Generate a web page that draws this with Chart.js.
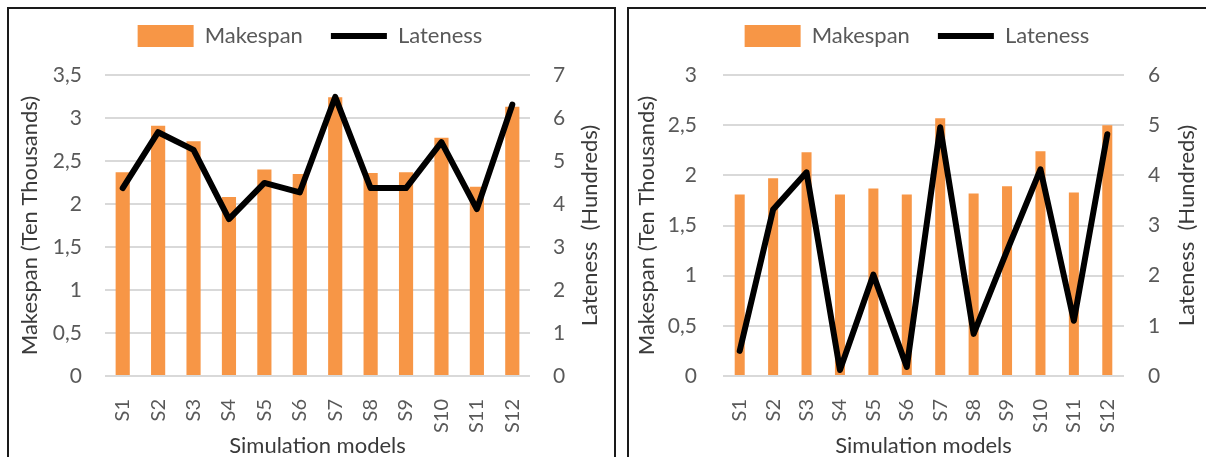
<!DOCTYPE html>
<html>
<head>
<meta charset="utf-8">
<script src="https://cdn.jsdelivr.net/npm/chart.js@4"></script>
<style>
    body { margin: 0; width: 1206px; height: 457px; overflow: hidden; background: #fff; position: relative; }
    .panel { position: absolute; top: 7px; height: 480px; border: 2px solid #1a1a1a; box-sizing: border-box; }
    #p1 { left: 7px; width: 609px; }
    #p2 { left: 627px; width: 600px; }
    canvas { position: absolute; top: -3px; }
    #c1 { left: 10px; }
    #c2 { left: 630px; }
</style>
</head>
<body>
<div class="panel" id="p1"></div>
<div class="panel" id="p2"></div>
<canvas id="c1" width="602" height="462"></canvas>
<canvas id="c2" width="576" height="462"></canvas>

<script>
// models on the x axis
const models = ['S1', 'S2', 'S3', 'S4', 'S5', 'S6', 'S7', 'S8', 'S9', 'S10', 'S11', 'S12'];

// left chart (makespan in ten thousands, lateness in hundreds)
const makespanLeft = [2.37, 2.91, 2.73, 2.08, 2.40, 2.35, 3.24, 2.36, 2.37, 2.77, 2.20, 3.13];
const latenessLeft = [4.37, 5.67, 5.26, 3.65, 4.49, 4.27, 6.49, 4.37, 4.37, 5.44, 3.88, 6.31];

// right chart
const makespanRight = [1.81, 1.97, 2.23, 1.81, 1.87, 1.81, 2.57, 1.82, 1.89, 2.24, 1.83, 2.50];
const latenessRight = [0.50, 3.32, 4.06, 0.12, 2.02, 0.18, 4.96, 0.84, 2.50, 4.12, 1.10, 4.82];

// axis ranges
const leftAxisMax = [3.5, 3];
const rightAxisMax = [7, 6];

const FONT = 'Lato';
const tickColor = '#595959';
const titleColor = '#3a3a3a';
const rightTitleText = 'Lateness  (Hundreds)';

// stretch the legend box so the plot starts lower
const legendSpace = {
    id: 'legendSpace',
    beforeInit(chart) {
        const fit = chart.legend.fit;
        chart.legend.fit = function () {
            fit.bind(chart.legend)();
            this.height = 78;
        };
    }
};

// right axis title reads bottom to top (like the left one)
const rightTitle = {
    id: 'rightTitle',
    afterDraw(chart) {
        const s = chart.scales.y1;
        const area = chart.chartArea;
        const ctx = chart.ctx;
        ctx.save();
        ctx.translate(s.right - 13, (area.top + area.bottom) / 2);
        ctx.rotate(-Math.PI / 2);
        ctx.font = '22px ' + FONT;
        ctx.fillStyle = titleColor;
        ctx.textAlign = 'center';
        ctx.textBaseline = 'middle';
        ctx.fillText(rightTitleText, 0, 0);
        ctx.restore();
    }
};

function comma(v) {
    return String(v).replace('.', ',');
}

function makeChart(id, makespan, lateness, yMax, y1Max, g) {
    const ctx = document.getElementById(id).getContext('2d');
    return new Chart(ctx, {
        type: 'bar',
        data: {
            labels: models,
            datasets: [
                {
                    type: 'bar',
                    label: 'Makespan',
                    data: makespan,
                    backgroundColor: '#F79646',
                    borderWidth: 0,
                    barPercentage: g.bar,
                    categoryPercentage: 1,
                    yAxisID: 'y',
                    order: 1,
                    pointStyle: 'rect'
                },
                {
                    type: 'line',
                    label: 'Lateness',
                    data: lateness,
                    borderColor: '#000',
                    backgroundColor: '#000',
                    borderWidth: 6,
                    borderJoinStyle: 'round',
                    borderCapStyle: 'round',
                    pointRadius: 0,
                    tension: 0,
                    yAxisID: 'y1',
                    order: 0,
                    pointStyle: 'line'
                }
            ]
        },
        options: {
            responsive: false,
            animation: false,
            layout: {
                padding: { left: g.padLeft, right: g.padRight, top: 0, bottom: 0 }
            },
            plugins: {
                legend: {
                    display: true,
                    position: 'top',
                    labels: {
                        usePointStyle: true,
                        pointStyleWidth: 56,
                        boxHeight: 22,
                        padding: 28,
                        color: tickColor,
                        font: { family: FONT, size: 22 },
                        sort: (a, b) => a.datasetIndex - b.datasetIndex
                    }
                },
                tooltip: { enabled: false }
            },
            scales: {
                x: {
                    grid: { display: false },
                    border: { display: false },
                    ticks: {
                        color: tickColor,
                        font: { family: FONT, size: 20 },
                        minRotation: 90,
                        maxRotation: 90,
                        autoSkip: false,
                        padding: 15
                    },
                    title: {
                        display: true,
                        text: 'Simulation models',
                        color: titleColor,
                        font: { family: FONT, size: 22 },
                        padding: 0
                    },
                    afterFit: (scale) => { scale.height = 83; }
                },
                y: {
                    position: 'left',
                    min: 0,
                    max: yMax,
                    grid: { color: '#d9d9d9', lineWidth: 2, drawTicks: false },
                    border: { display: false },
                    ticks: {
                        stepSize: 0.5,
                        color: tickColor,
                        font: { family: FONT, size: 21 },
                        padding: g.yPad,
                        callback: (v) => comma(v)
                    },
                    title: {
                        display: true,
                        text: 'Makespan (Ten Thousands)',
                        color: titleColor,
                        font: { family: FONT, size: 22 },
                        padding: 0
                    },
                    afterFit: (scale) => { scale.width = g.yWidth; }
                },
                y1: {
                    position: 'right',
                    min: 0,
                    max: y1Max,
                    grid: { display: false, drawTicks: false },
                    border: { display: false },
                    ticks: {
                        stepSize: 1,
                        color: tickColor,
                        font: { family: FONT, size: 21 },
                        padding: g.y1Pad
                    },
                    title: { display: false },
                    afterFit: (scale) => { scale.width = g.y1Width; }
                }
            }
        },
        plugins: [legendSpace, rightTitle]
    });
}

makeChart('c1', makespanLeft, latenessLeft, leftAxisMax[0], rightAxisMax[0],
    { padLeft: 7, padRight: 9, yWidth: 88, y1Width: 73, yPad: 23, y1Pad: 23, bar: 0.4 });

makeChart('c2', makespanRight, latenessRight, leftAxisMax[1], rightAxisMax[1],
    { padLeft: 4, padRight: 6, yWidth: 89, y1Width: 76, yPad: 26, y1Pad: 24, bar: 0.3 });
</script>
</body>
</html>
